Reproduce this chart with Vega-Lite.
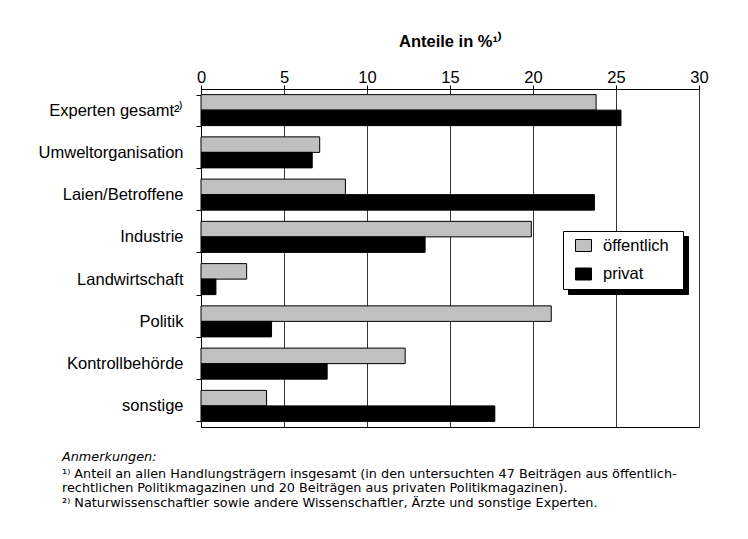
{
  "$schema": "https://vega.github.io/schema/vega-lite/v6.json",
  "autosize": {"type": "none"},
  "width": 498,
  "height": 338,
  "padding": {"left": 201, "top": 89, "right": 49, "bottom": 112},
  "background": "white",
  "title": {
    "text": "Anmerkungen:",
    "subtitle": [
      "¹⁾ Anteil an allen Handlungsträgern insgesamt (in den untersuchten 47 Beiträgen aus öffentlich-",
      "\u00a0\u00a0\u00a0\u00a0rechtlichen Politikmagazinen und 20 Beiträgen aus privaten Politikmagazinen).",
      "²⁾ Naturwissenschaftler sowie andere Wissenschaftler, Ärzte und sonstige Experten."
    ],
    "orient": "bottom",
    "anchor": "start",
    "frame": "group",
    "dx": -139,
    "offset": 24,
    "font": "DejaVu Sans",
    "fontSize": 12.8,
    "fontStyle": "italic",
    "fontWeight": "normal",
    "color": "black",
    "subtitleFont": "DejaVu Sans",
    "subtitleFontSize": 12.8,
    "subtitleColor": "black",
    "subtitleLineHeight": 14.5,
    "subtitlePadding": 4
  },
  "data": {
    "values": [
      {"Kategorie": "Experten gesamt²⁾", "Typ": "öffentlich", "Wert": 23.8},
      {"Kategorie": "Experten gesamt²⁾", "Typ": "privat", "Wert": 25.3},
      {"Kategorie": "Umweltorganisation", "Typ": "öffentlich", "Wert": 7.15},
      {"Kategorie": "Umweltorganisation", "Typ": "privat", "Wert": 6.7},
      {"Kategorie": "Laien/Betroffene", "Typ": "öffentlich", "Wert": 8.7},
      {"Kategorie": "Laien/Betroffene", "Typ": "privat", "Wert": 23.7},
      {"Kategorie": "Industrie", "Typ": "öffentlich", "Wert": 19.9},
      {"Kategorie": "Industrie", "Typ": "privat", "Wert": 13.5},
      {"Kategorie": "Landwirtschaft", "Typ": "öffentlich", "Wert": 2.75},
      {"Kategorie": "Landwirtschaft", "Typ": "privat", "Wert": 0.9},
      {"Kategorie": "Politik", "Typ": "öffentlich", "Wert": 21.1},
      {"Kategorie": "Politik", "Typ": "privat", "Wert": 4.25},
      {"Kategorie": "Kontrollbehörde", "Typ": "öffentlich", "Wert": 12.3},
      {"Kategorie": "Kontrollbehörde", "Typ": "privat", "Wert": 7.6},
      {"Kategorie": "sonstige", "Typ": "öffentlich", "Wert": 3.95},
      {"Kategorie": "sonstige", "Typ": "privat", "Wert": 17.7}
    ]
  },
  "mark": {"type": "bar", "stroke": "black", "strokeWidth": 1},
  "encoding": {
    "y": {
      "field": "Kategorie",
      "type": "nominal",
      "sort": null,
      "scale": {"paddingInner": 0.266, "paddingOuter": 0.133},
      "axis": {
        "title": null,
        "orient": "left",
        "domainColor": "black",
        "tickColor": "black",
        "tickSize": 5,
        "tickBand": "extent",
        "labelPadding": 13,
        "labelFont": "Liberation Sans",
        "labelFontSize": 16.5,
        "labelColor": "black",
        "labelLimit": 300
      }
    },
    "yOffset": {
      "field": "Typ",
      "type": "nominal",
      "sort": ["öffentlich", "privat"]
    },
    "x": {
      "field": "Wert",
      "type": "quantitative",
      "scale": {"domain": [0, 30], "nice": false},
      "axis": {
        "orient": "top",
        "title": "Anteile in %¹⁾",
        "values": [0, 5, 10, 15, 20, 25, 30],
        "grid": true,
        "gridColor": "#333",
        "gridWidth": 1,
        "gridOpacity": 1,
        "domainColor": "black",
        "tickColor": "black",
        "tickSize": 4,
        "labelPadding": 0,
        "labelFont": "Liberation Sans",
        "labelFontSize": 16.5,
        "labelColor": "black",
        "labelFlush": false,
        "titleFont": "Liberation Sans",
        "titleFontSize": 16.5,
        "titleFontWeight": "bold",
        "titleColor": "black",
        "titlePadding": 20
      }
    },
    "fill": {
      "field": "Typ",
      "type": "nominal",
      "scale": {"domain": ["öffentlich", "privat"], "range": ["#c0c0c0", "#000000"]},
      "legend": {
        "title": "\u00a0",
        "titleOrient": "right",
        "titlePadding": 8,
        "titleFontSize": 1,
        "orient": "none",
        "legendX": 362,
        "legendY": 142,
        "zindex": 2,
        "fillColor": "white",
        "strokeColor": "black",
        "padding": 6,
        "symbolOffset": 6,
        "symbolType": "M-1,-0.75H1V0.75H-1Z",
        "symbolSize": 256,
        "symbolStrokeColor": "black",
        "symbolStrokeWidth": 1,
        "labelOffset": 11,
        "rowPadding": 11.5,
        "labelFont": "Liberation Sans",
        "labelFontSize": 16.5,
        "labelColor": "black"
      }
    },
    "opacity": {
      "field": "Typ",
      "type": "ordinal",
      "sort": ["öffentlich", "privat"],
      "scale": {"range": [1, 1]},
      "legend": {
        "title": null,
        "orient": "none",
        "legendX": 367,
        "legendY": 147,
        "zindex": 1,
        "fillColor": "black",
        "strokeColor": "black",
        "padding": 6,
        "symbolOffset": 6,
        "symbolType": "M-1,-0.75H1V0.75H-1Z",
        "symbolSize": 256,
        "symbolFillColor": "black",
        "symbolStrokeColor": "black",
        "symbolStrokeWidth": 1,
        "labelOffset": 84.6,
        "rowPadding": 11.5,
        "labelFont": "Liberation Sans",
        "labelFontSize": 16.5,
        "labelColor": "black",
        "labelExpr": "'\u00a0'"
      }
    }
  },
  "config": {
    "view": {"stroke": "black", "strokeWidth": 1}
  }
}
